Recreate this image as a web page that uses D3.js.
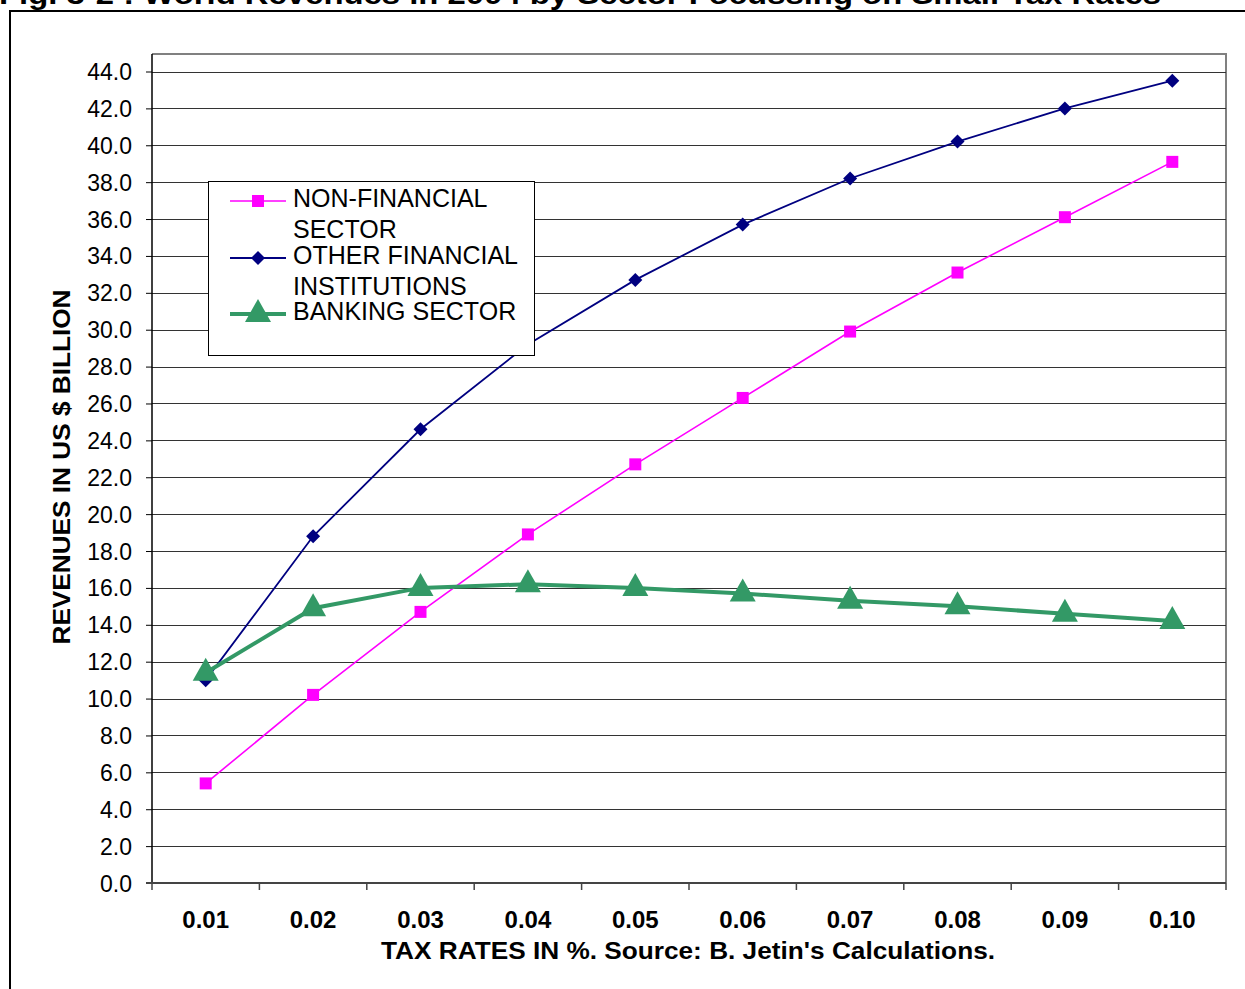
<!DOCTYPE html>
<html>
<head>
<meta charset="utf-8">
<script src="https://cdn.jsdelivr.net/npm/d3@7/dist/d3.min.js"></script>
<style>
  html, body { margin: 0; padding: 0; background: #fff; }
  svg { display: block; }
  text { font-family: "Liberation Sans", Arial, sans-serif; }
</style>
</head>
<body>
<script>
const title = "Fig. 3-2 : World Revenues in 2004 by Sector Focussing on Small Tax Rates";
const categories = ["0.01", "0.02", "0.03", "0.04", "0.05", "0.06", "0.07", "0.08", "0.09", "0.10"];
const nonFinancial = [5.4, 10.2, 14.7, 18.9, 22.7, 26.3, 29.9, 33.1, 36.1, 39.1];
const otherFinancial = [11.0, 18.8, 24.6, 29.2, 32.7, 35.7, 38.2, 40.2, 42.0, 43.5];
const banking = [11.4, 14.9, 16.0, 16.2, 16.0, 15.7, 15.3, 15.0, 14.6, 14.2];
const yTicks = [0, 2, 4, 6, 8, 10, 12, 14, 16, 18, 20, 22, 24, 26, 28, 30, 32, 34, 36, 38, 40, 42, 44];
const seriesNames = [["NON-FINANCIAL", "SECTOR"], ["OTHER FINANCIAL", "INSTITUTIONS"], ["BANKING SECTOR"]];
const yTitle = "REVENUES IN US $ BILLION";
const xTitle = "TAX RATES IN %. Source: B. Jetin's Calculations.";

const W = 1245, H = 989;
const svg = d3.select("body").append("svg").attr("width", W).attr("height", H);

// outer frame
svg.append("rect").attr("x", 10).attr("y", 11).attr("width", W + 20).attr("height", H + 20)
  .attr("fill", "none").attr("stroke", "#000").attr("stroke-width", 2);

// title (clipped at top, as in reference)
svg.append("text").attr("x", -1).attr("y", 4)
  .attr("font-size", 27).attr("font-weight", "bold")
  .attr("textLength", 1162).attr("lengthAdjust", "spacingAndGlyphs")
  .text(title);

const L = 152, R = 1226, T = 54, B = 883;
const x = d3.scaleBand().domain(categories).range([L, R]);
const y = d3.scaleLinear().domain([0, 44]).range([B, 71.5]);

// plot area border (grey top/right)
svg.append("path").attr("d", `M${L},${T}H${R}V${B}`).attr("fill", "none")
  .attr("stroke", "#808080").attr("stroke-width", 2);

// gridlines
svg.append("g").selectAll("line").data(yTicks.filter(d => d > 0)).join("line")
  .attr("x1", L).attr("x2", R)
  .attr("y1", d => Math.round(y(d)) + 0.5).attr("y2", d => Math.round(y(d)) + 0.5)
  .attr("stroke", "#333").attr("stroke-width", 1);

// y axis
const yAxis = d3.axisLeft(y).tickValues(yTicks).tickFormat(d3.format(".1f")).tickSize(6).tickPadding(14);
const gy = svg.append("g").attr("transform", `translate(${L},0)`).call(yAxis);
gy.select(".domain").attr("stroke", "#000").attr("stroke-width", 1.5).attr("d", `M0,${T}V${B}`);
gy.selectAll(".tick line").attr("stroke", "#000");
gy.selectAll(".tick text").attr("font-size", 23).attr("fill", "#000")
  .attr("font-family", '"Liberation Sans", Arial, sans-serif').attr("dy", "0.35em");

// x axis
const xAxis = d3.axisBottom(x).tickSize(0).tickPadding(28);
const gx = svg.append("g").attr("transform", `translate(0,${B})`).call(xAxis);
gx.select(".domain").attr("stroke", "#444").attr("stroke-width", 2).attr("d", `M${L - 6},0H${R}`);
gx.selectAll(".tick text").attr("font-size", 24).attr("font-weight", "bold").attr("fill", "#000")
  .attr("font-family", '"Liberation Sans", Arial, sans-serif');
// category boundary ticks
const bounds = categories.map(c => x(c)).concat([R]);
svg.append("g").selectAll("line").data(bounds).join("line")
  .attr("x1", d => d).attr("x2", d => d).attr("y1", B).attr("y2", B + 7)
  .attr("stroke", "#444").attr("stroke-width", 1.5);

// axis titles
svg.append("text").attr("transform", `translate(70,${467}) rotate(-90)`)
  .attr("text-anchor", "middle").attr("font-size", 23).attr("font-weight", "bold")
  .attr("textLength", 355).attr("lengthAdjust", "spacingAndGlyphs").text(yTitle);
svg.append("text").attr("x", 688).attr("y", 959).attr("text-anchor", "middle")
  .attr("font-size", 23).attr("font-weight", "bold")
  .attr("textLength", 614).attr("lengthAdjust", "spacingAndGlyphs").text(xTitle);

const cx = c => x(c) + x.bandwidth() / 2;
const line = d3.line().x(d => cx(d[0])).y(d => y(d[1]));

const series = [
  { vals: nonFinancial, color: "#FF00FF", width: 1.6, marker: "square" },
  { vals: otherFinancial, color: "#000080", width: 1.8, marker: "diamond" },
  { vals: banking, color: "#339966", width: 4, marker: "triangle" }
];

function drawMarker(g, type, color, px, py) {
  if (type === "square") {
    g.append("rect").attr("x", px - 6).attr("y", py - 6).attr("width", 12).attr("height", 12).attr("fill", color);
  } else if (type === "diamond") {
    g.append("path").attr("d", `M${px},${py - 7}L${px + 7},${py}L${px},${py + 7}L${px - 7},${py}Z`).attr("fill", color);
  } else {
    g.append("path").attr("d", `M${px},${py - 15}L${px + 13},${py + 8}L${px - 13},${py + 8}Z`).attr("fill", color);
  }
}

const plotG = svg.append("g");
series.forEach(s => {
  const pts = categories.map((c, i) => [c, s.vals[i]]);
  plotG.append("path").datum(pts).attr("d", line).attr("fill", "none")
    .attr("stroke", s.color).attr("stroke-width", s.width);
  const mg = plotG.append("g");
  pts.forEach(p => drawMarker(mg, s.marker, s.color, cx(p[0]), y(p[1])));
});

// legend
const lg = svg.append("g");
lg.append("rect").attr("x", 208.5).attr("y", 181.5).attr("width", 326).attr("height", 174)
  .attr("fill", "#fff").attr("stroke", "#000").attr("stroke-width", 1);
const legendRows = [201, 258, 314];
series.forEach((s, i) => {
  const ly = legendRows[i];
  lg.append("line").attr("x1", 230).attr("x2", 286).attr("y1", ly).attr("y2", ly)
    .attr("stroke", s.color).attr("stroke-width", s.width);
  drawMarker(lg, s.marker, s.color, 258, ly);
  seriesNames[i].forEach((t, j) => {
    lg.append("text").attr("x", 293).attr("y", ly + 6 + j * 31)
      .attr("font-size", 25).attr("fill", "#000").text(t);
  });
});
</script>
</body>
</html>
